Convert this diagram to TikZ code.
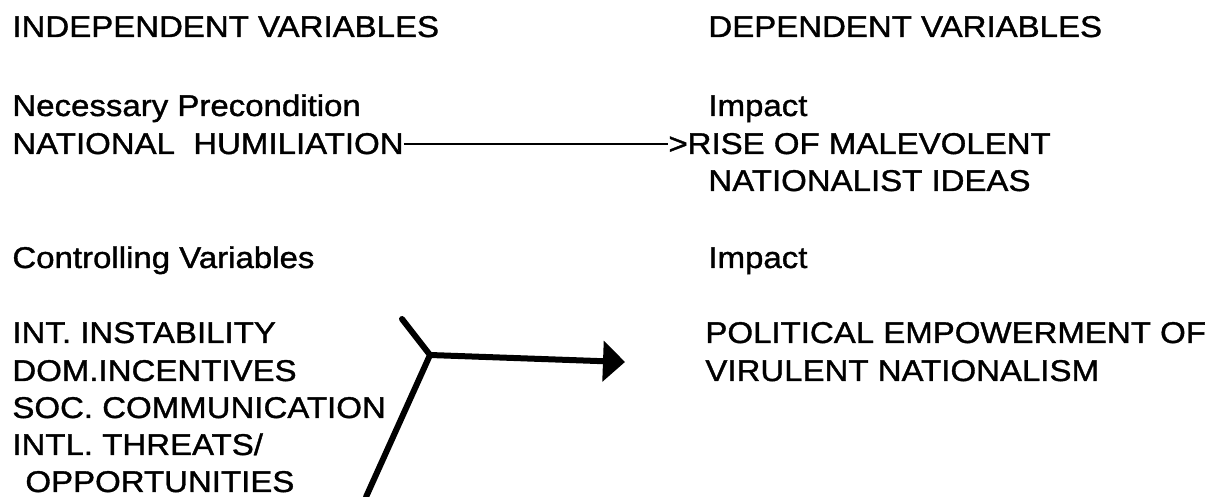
\documentclass[tikz,border=0pt]{standalone}
\usepackage{fontspec}
\setmainfont{Liberation Sans}[FakeStretch=1.1, FakeBold=1.2]
\usetikzlibrary{arrows.meta, positioning}

\begin{document}
\begin{tikzpicture}[x=0.5pt, y=-0.5pt,
  lbl/.style={anchor=base west, inner sep=0pt, font=\fontsize{15}{18}\selectfont},
  fork/.style={line width=3pt, line cap=round, line join=round},
  arrow/.style={-{Triangle[length=11pt, width=20pt]}, line width=3pt}
]
  \useasboundingbox (0,0) rectangle (1217,497);

  % column headings
  \node[lbl] (indep) at (12,37) {INDEPENDENT VARIABLES};
  \node[lbl] (dep) at (708,37) {DEPENDENT VARIABLES};

  % necessary precondition
  \node[lbl] (nec) at (12,116) {Necessary Precondition};
  \node[lbl] (hum) at (12,154) {NATIONAL~~HUMILIATION};
  \node[lbl] (imp1) at (708,116) {Impact};
  \node[lbl] (rise) at (668,154) {>RISE OF MALEVOLENT};
  \node[lbl] (ideas) at (708,191) {NATIONALIST IDEAS};
  \draw[line width=1pt] (hum.east) -- (rise.west);

  % controlling variables
  \node[lbl] (ctrl) at (12,268) {Controlling Variables};
  \node[lbl] (imp2) at (708,268) {Impact};
  \node[lbl] (inst) at (12,343) {INT. INSTABILITY};
  \node[lbl] (dom) at (12,381) {DOM.INCENTIVES};
  \node[lbl] (soc) at (12,418) {SOC. COMMUNICATION};
  \node[lbl] (thr) at (12,455) {INTL. THREATS/};
  \node[lbl] (opp) at (25,492) {OPPORTUNITIES};
  \node[lbl] (pol) at (705,343) {POLITICAL EMPOWERMENT OF};
  \node[lbl] (vir) at (705,381) {VIRULENT NATIONALISM};

  % fork into arrow
  \coordinate (fk) at (430,355);
  \coordinate (fktop) at (402,319);
  \coordinate (fkbot) at (366,497);
  \coordinate (tip) at (625,362);
  \draw[fork] (fktop) -- (fk) -- (fkbot);
  \draw[arrow] (fk) -- (tip);
\end{tikzpicture}
\end{document}
